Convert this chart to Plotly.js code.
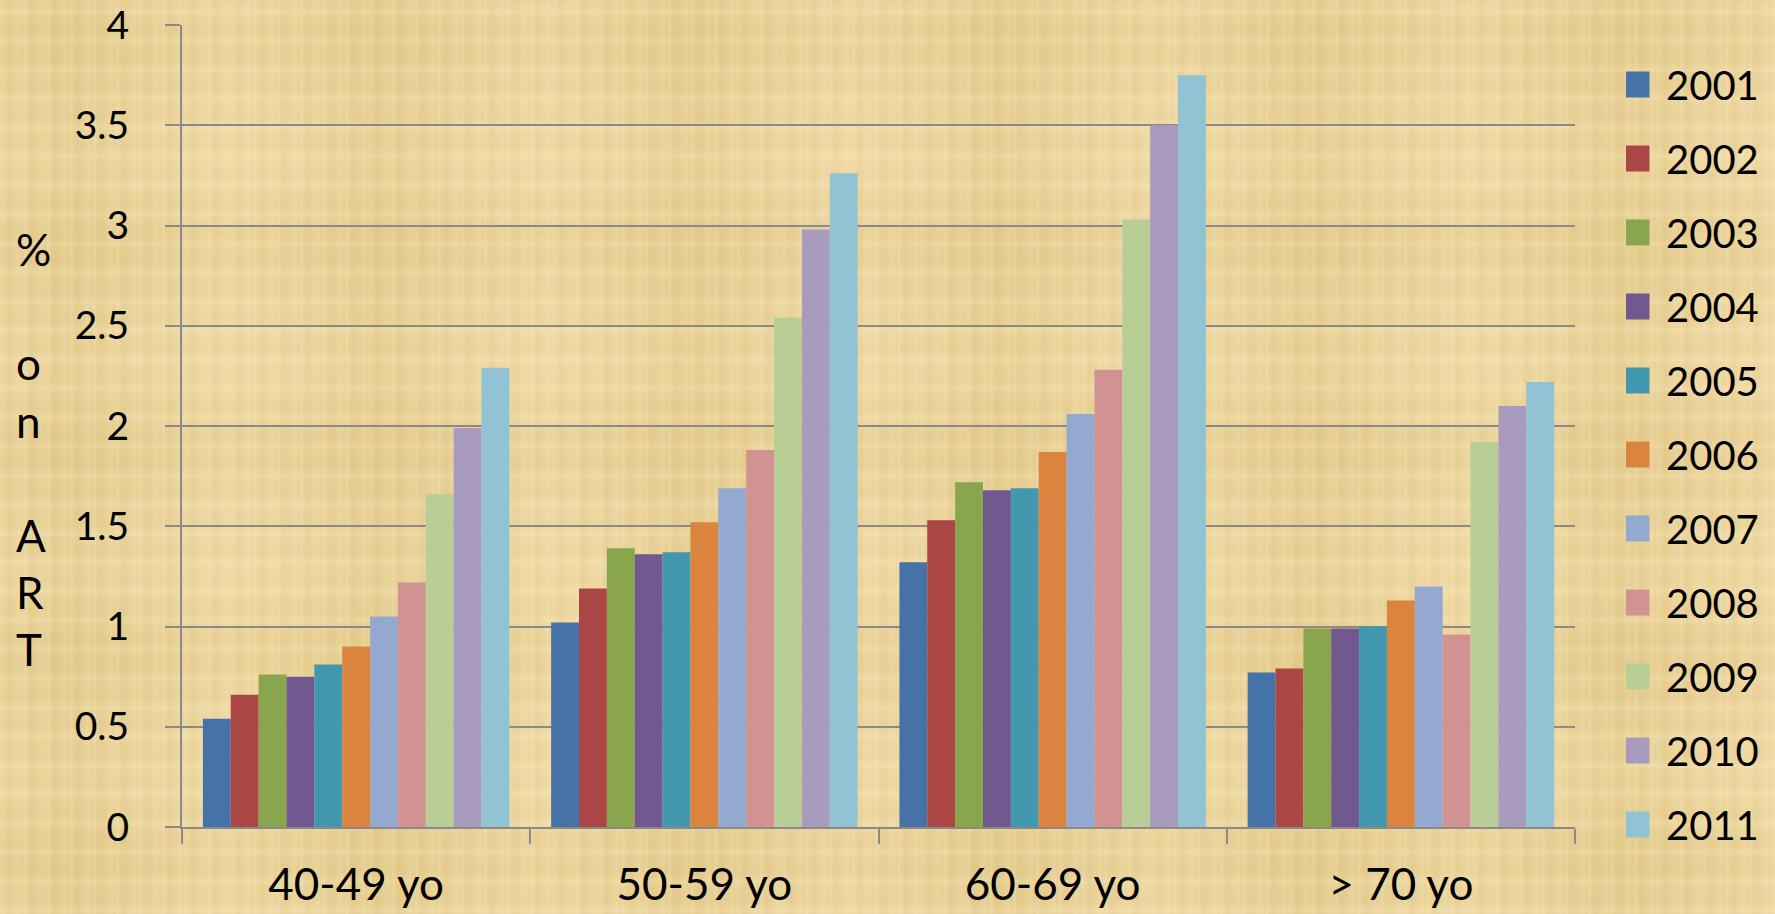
<!DOCTYPE html>
<html>
<head>
<meta charset="utf-8">
<script src="https://cdn.plot.ly/plotly-3.0.1.min.js"></script>
<style>
  html, body { margin:0; padding:0; width:1775px; height:914px; overflow:hidden; }
  body {
    background-color: #ebd49c;
    background-image:
      repeating-linear-gradient(90deg, rgba(255,242,205,0) 0px, rgba(255,242,205,0.22) 2px, rgba(255,242,205,0) 5px, rgba(200,170,90,0.08) 9px, rgba(255,242,205,0) 13px, rgba(255,242,205,0.15) 19px, rgba(255,242,205,0) 23px),
      repeating-linear-gradient(0deg, rgba(255,245,210,0) 0px, rgba(255,245,210,0.16) 3px, rgba(255,245,210,0) 8px, rgba(190,160,80,0.07) 14px, rgba(255,245,210,0) 29px),
      repeating-linear-gradient(90deg, rgba(210,180,100,0) 0px, rgba(210,180,100,0.16) 70px, rgba(210,180,100,0) 150px, rgba(255,235,190,0.16) 230px, rgba(210,180,100,0) 310px),
      repeating-linear-gradient(0deg, rgba(210,180,100,0) 0px, rgba(210,180,100,0.13) 55px, rgba(255,235,190,0.13) 130px, rgba(210,180,100,0) 205px);
  }
  #chart { width:1775px; height:914px; }
</style>
</head>
<body>
<div id="chart"></div>
<script>
const categories = ["40-49 yo", "50-59 yo", "60-69 yo", "> 70 yo"];
const years = ["2001","2002","2003","2004","2005","2006","2007","2008","2009","2010","2011"];
const v2001 = [0.54, 1.02, 1.32, 0.77];
const v2002 = [0.66, 1.19, 1.53, 0.79];
const v2003 = [0.76, 1.39, 1.72, 0.99];
const v2004 = [0.75, 1.36, 1.68, 0.99];
const v2005 = [0.81, 1.37, 1.69, 1.00];
const v2006 = [0.90, 1.52, 1.87, 1.13];
const v2007 = [1.05, 1.69, 2.06, 1.20];
const v2008 = [1.22, 1.88, 2.28, 0.96];
const v2009 = [1.66, 2.54, 3.03, 1.92];
const v2010 = [1.99, 2.98, 3.50, 2.10];
const v2011 = [2.29, 3.26, 3.75, 2.22];
const yTickVals = [0, 0.5, 1, 1.5, 2, 2.5, 3, 3.5, 4];
const yTickText = ["0", "0.5", "1", "1.5", "2", "2.5", "3", "3.5", "4"];

const series = [v2001, v2002, v2003, v2004, v2005, v2006, v2007, v2008, v2009, v2010, v2011];
const colors = ["#4572A7","#AA4643","#89A54E","#71588F","#4198AF","#DB843D","#93A9CF","#D19392","#B9CD96","#A99BBD","#92C3D5"];

const traces = series.map((vals, i) => ({
  type: "bar",
  name: years[i],
  x: categories,
  y: vals,
  legendgroup: "g" + i,
  marker: { color: colors[i], line: { width: 0 } },
  hoverinfo: "skip"
}));

const gray = "#8a8a8a";
const L = 182, R = 1575, T = 25, B = 827;
const W = R - L, H = B - T;

const layout = {
  width: 1775, height: 914,
  margin: { l: L, r: 1775 - R, t: T, b: 914 - B, autoexpand: false },
  paper_bgcolor: "rgba(0,0,0,0)",
  plot_bgcolor: "rgba(0,0,0,0)",
  barmode: "group",
  bargap: 0.12,
  bargroupgap: 0,
  font: { family: "Lato, 'Open Sans', sans-serif", color: "#000" },
  showlegend: true,
  legend: {
    x: (1626 - L) / W, xanchor: "left",
    y: (B - 52) / H, yanchor: "top",
    font: { size: 40, color: "#000", family: "Lato, sans-serif" },
    tracegroupgap: 19,
    bgcolor: "rgba(0,0,0,0)",
    borderwidth: 0
  },
  xaxis: {
    type: "category",
    tickson: "boundaries",
    ticks: "outside", ticklen: 15, tickwidth: 2, tickcolor: gray,
    showline: true, linecolor: gray, linewidth: 2,
    showgrid: false, zeroline: false,
    tickfont: { size: 44, color: "#000", family: "Lato, sans-serif" },
    ticklabelstandoff: 18,
    fixedrange: true
  },
  yaxis: {
    range: [0, 4],
    tickvals: yTickVals, ticktext: yTickText,
    ticks: "outside", ticklen: 15, tickwidth: 2, tickcolor: gray,
    showline: true, linecolor: gray, linewidth: 2,
    showgrid: true, gridcolor: gray, gridwidth: 2,
    zeroline: false,
    tickfont: { size: 39, color: "#000", family: "Lato, sans-serif" },
    ticklabelstandoff: 28,
    fixedrange: true
  },
  annotations: [{
    xref: "paper", yref: "paper",
    x: (14 - L) / W, xanchor: "left",
    y: (B - 449) / H, yanchor: "middle",
    align: "left",
    showarrow: false,
    text: "%<br> <br>o<br>n<br> <br>A<br>R<br>T",
    font: { size: 44, color: "#000", family: "Lato, sans-serif" }
  }]
};

Plotly.newPlot("chart", traces, layout, { staticPlot: true, displayModeBar: false }).then(() => {
  document.querySelectorAll(".legendpoints path").forEach(p => {
    p.setAttribute("d", "M23.5,13H-3.5V-13H23.5Z");
    p.removeAttribute("transform");
  });
});
</script>
</body>
</html>
